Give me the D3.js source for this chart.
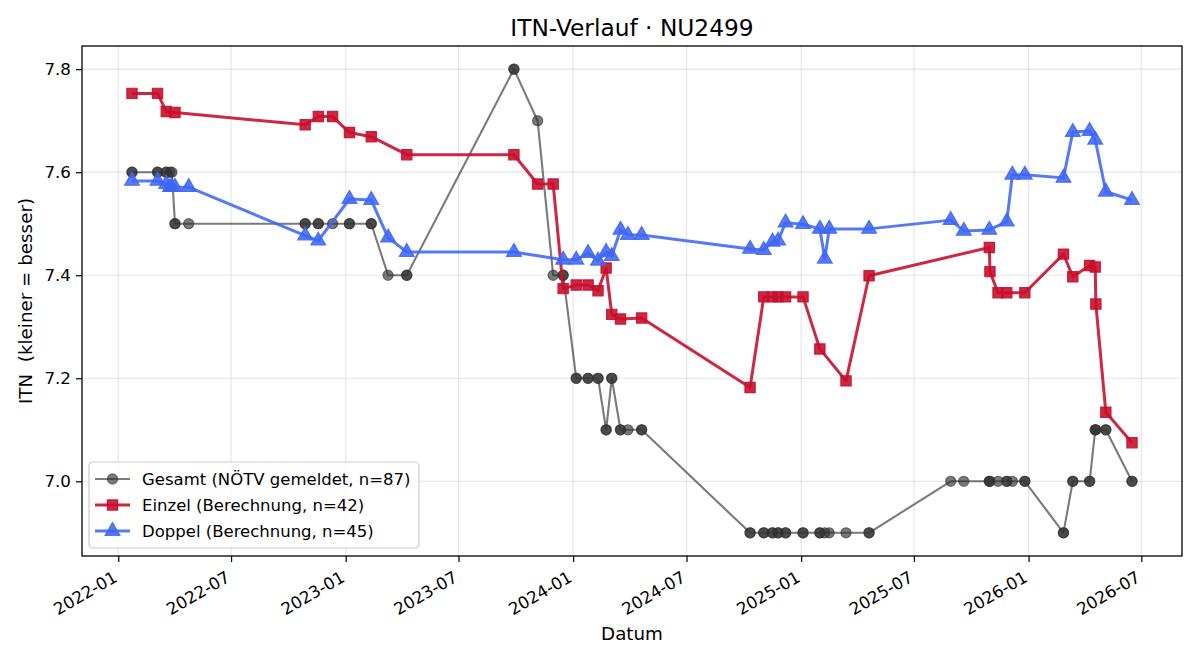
<!DOCTYPE html>
<html>
<head>
<meta charset="utf-8">
<script src="https://cdn.jsdelivr.net/npm/d3@7"></script>
<style>
  body { margin: 0; background: #fff; }
  svg, svg text { font-family: "DejaVu Sans", sans-serif; }
</style>
</head>
<body>
<svg id="itnsvg" width="1200" height="660"></svg>
<script>
// Einzel (berechnet) + NÖTV gemeldeter Wert am selben Tag
var einzelDates = ["2022-01-23","2022-03-05","2022-03-19","2022-04-02","2022-10-28","2022-11-18","2022-12-11",
  "2023-01-07","2023-02-11","2023-04-09","2023-09-28","2023-11-05","2023-11-30","2023-12-16",
  "2024-01-06","2024-01-25","2024-02-10","2024-02-23","2024-03-03","2024-03-17","2024-04-20",
  "2024-10-11","2024-11-02","2024-11-16","2024-11-25","2024-12-07","2025-01-04","2025-01-31",
  "2025-03-14","2025-04-20","2025-10-30","2025-10-31","2025-11-13","2025-11-27","2025-12-26",
  "2026-02-26","2026-03-13","2026-04-09","2026-04-18","2026-04-19","2026-05-05","2026-06-16"];
var einzelItn = [7.753,7.753,7.718,7.716,7.692,7.708,7.708,
  7.677,7.669,7.634,7.634,7.577,7.577,7.374,
  7.381,7.381,7.370,7.414,7.324,7.315,7.317,
  7.182,7.358,7.358,7.358,7.358,7.358,7.257,
  7.195,7.399,7.454,7.407,7.366,7.366,7.366,
  7.441,7.397,7.419,7.416,7.344,7.134,7.075];
var einzelGemeldet = [7.6,7.6,7.6,7.5,7.5,7.5,7.5,
  7.5,7.5,7.4,7.8,7.7,7.4,7.4,
  7.2,7.2,7.2,7.1,7.2,7.1,7.1,
  6.9,6.9,6.9,6.9,6.9,6.9,6.9,
  6.9,6.9,7.0,7.0,7.0,7.0,7.0,
  6.9,7.0,7.0,7.1,7.1,7.1,7.0];

// Doppel (berechnet) + NÖTV gemeldeter Wert
var doppelDates = ["2022-01-23","2022-03-05","2022-03-19","2022-03-25","2022-03-28","2022-04-02","2022-04-24",
  "2022-10-28","2022-11-18","2023-01-07","2023-02-11","2023-03-10","2023-04-09","2023-09-28",
  "2023-12-16","2024-01-06","2024-01-25","2024-02-10","2024-02-23","2024-03-03","2024-03-17",
  "2024-03-29","2024-04-20","2024-10-11","2024-11-02","2024-11-16","2024-11-25","2024-12-07",
  "2025-01-04","2025-01-31","2025-02-08","2025-02-15","2025-04-20","2025-08-29","2025-09-19",
  "2025-10-30","2025-11-27","2025-12-06","2025-12-26","2026-02-26","2026-03-13","2026-04-09",
  "2026-04-18","2026-05-05","2026-06-16"];
var doppelItn = [7.583,7.583,7.577,7.571,7.571,7.571,7.571,
  7.477,7.467,7.548,7.546,7.473,7.445,7.445,
  7.430,7.430,7.443,7.428,7.445,7.437,7.488,
  7.478,7.478,7.451,7.449,7.465,7.467,7.502,
  7.499,7.490,7.432,7.490,7.490,7.507,7.486,
  7.488,7.504,7.595,7.595,7.589,7.678,7.680,
  7.663,7.562,7.546];
var doppelGemeldet = [7.6,7.6,7.6,7.6,7.6,7.5,7.5,
  7.5,7.5,7.5,7.5,7.4,7.4,7.8,
  7.4,7.2,7.2,7.2,7.1,7.2,7.1,
  7.1,7.1,6.9,6.9,6.9,6.9,6.9,
  6.9,6.9,6.9,6.9,6.9,7.0,7.0,
  7.0,7.0,7.0,7.0,6.9,7.0,7.0,
  7.1,7.1,7.0];

var yTicks = [7.0, 7.2, 7.4, 7.6, 7.8];
var legendLabels = ["Gesamt (NÖTV gemeldet, n=87)", "Einzel (Berechnung, n=42)", "Doppel (Berechnung, n=45)"];

var margin = {top: 46, left: 82, right: 18, bottom: 104},
	width = 1200 - margin.left - margin.right,
	height = 660 - margin.top - margin.bottom;

var parse = d3.timeParse("%Y-%m-%d");

var einzel = einzelDates.map(function(d, i) { return {date: parse(d), v: einzelItn[i]}; });
var doppel = doppelDates.map(function(d, i) { return {date: parse(d), v: doppelItn[i]}; });
var gesamt = einzelDates.map(function(d, i) { return {date: parse(d), v: einzelGemeldet[i]}; })
	.concat(doppelDates.map(function(d, i) { return {date: parse(d), v: doppelGemeldet[i]}; }));
gesamt.sort(function(a, b) { return a.date - b.date; });

var svg = d3.select("#itnsvg");
var g = svg.append("g").attr("transform", "translate(" + margin.left + "," + margin.top + ")");

// matplotlib-like 5% margins
var xExt = d3.extent(gesamt, function(d) { return d.date; });
var xPad = (xExt[1] - xExt[0]) * 0.05;
var x = d3.scaleTime()
	.domain([new Date(+xExt[0] - xPad), new Date(+xExt[1] + xPad)])
	.range([0, width]);

var allV = gesamt.concat(einzel, doppel).map(function(d) { return d.v; });
var yMin = d3.min(allV), yMax = d3.max(allV), yPad = (yMax - yMin) * 0.05;
var y = d3.scaleLinear()
	.domain([yMin - yPad, yMax + yPad])
	.range([height, 0]);

var xTickVals = x.ticks(d3.timeMonth.every(6));

// grid
g.append("g").selectAll("line.vg")
	.data(xTickVals).enter().append("line")
	.attr("x1", function(d) { return x(d); }).attr("x2", function(d) { return x(d); })
	.attr("y1", 0).attr("y2", height)
	.attr("stroke", "#b0b0b0").attr("stroke-opacity", 0.3).attr("stroke-width", 1.2);
g.append("g").selectAll("line.hg")
	.data(yTicks).enter().append("line")
	.attr("y1", function(d) { return y(d); }).attr("y2", function(d) { return y(d); })
	.attr("x1", 0).attr("x2", width)
	.attr("stroke", "#b0b0b0").attr("stroke-opacity", 0.3).attr("stroke-width", 1.2);

var line = d3.line()
	.x(function(d) { return x(d.date); })
	.y(function(d) { return y(d.v); });

var series = [
	{data: gesamt, color: "#333333", alpha: 0.65, lw: 2.1, shape: d3.symbolCircle, size: 80},
	{data: einzel, color: "#c8102e", alpha: 0.9, lw: 3, shape: d3.symbolSquare, size: 105},
	{data: doppel, color: "#3f66f5", alpha: 0.88, lw: 3, shape: d3.symbolTriangle, size: 95}
];

series.forEach(function(s) {
	g.append("path")
		.datum(s.data)
		.attr("d", line)
		.attr("fill", "none")
		.attr("stroke", s.color)
		.attr("stroke-opacity", s.alpha)
		.attr("stroke-width", s.lw)
		.attr("stroke-linejoin", "round");
	g.append("g").selectAll("path")
		.data(s.data).enter().append("path")
		.attr("d", d3.symbol().type(s.shape).size(s.size))
		.attr("transform", function(d) { return "translate(" + x(d.date) + "," + y(d.v) + ")"; })
		.attr("fill", s.color)
		.attr("fill-opacity", s.alpha)
		.attr("stroke", s.color)
		.attr("stroke-opacity", s.alpha)
		.attr("stroke-width", 1.2);
});

// axes
var xAxis = g.append("g")
	.attr("transform", "translate(0," + height + ")")
	.call(d3.axisBottom(x).tickValues(xTickVals).tickFormat(d3.timeFormat("%Y-%m")).tickSizeOuter(0).tickSize(6))
	.attr("font-family", "DejaVu Sans").attr("font-size", 16.7);
xAxis.selectAll("text")
	.attr("fill", "#000")
	.attr("text-anchor", "end")
	.attr("y", 0).attr("dy", "0.8em")
	.attr("transform", "translate(-7,13) rotate(-30)");

var yAxis = g.append("g")
	.call(d3.axisLeft(y).tickValues(yTicks).tickFormat(d3.format(".1f")).tickSizeOuter(0).tickSize(6))
	.attr("font-family", "DejaVu Sans").attr("font-size", 16.7);
yAxis.selectAll("text").attr("fill", "#000").attr("x", -11);

svg.selectAll(".domain").remove();
svg.selectAll(".tick line").attr("stroke", "#000").attr("stroke-width", 1.2);

g.append("rect")
	.attr("width", width).attr("height", height)
	.attr("fill", "none").attr("stroke", "#000").attr("stroke-width", 1.3);

// titles
svg.append("text")
	.attr("x", margin.left + width / 2).attr("y", 36)
	.attr("text-anchor", "middle").attr("font-size", 23.3)
	.text("ITN-Verlauf · NU2499");
svg.append("text")
	.attr("x", margin.left + width / 2).attr("y", 640)
	.attr("text-anchor", "middle").attr("font-size", 18.3)
	.text("Datum");
svg.append("text")
	.attr("transform", "translate(32," + (margin.top + height / 2) + ") rotate(-90)")
	.attr("text-anchor", "middle").attr("font-size", 18.3)
	.style("white-space", "pre")
	.text("ITN  (kleiner = besser)");

// legend
var leg = g.append("g").attr("transform", "translate(7," + (height - 94) + ")");
leg.append("rect")
	.attr("width", 330).attr("height", 86).attr("rx", 4)
	.attr("fill", "#fff").attr("fill-opacity", 0.8)
	.attr("stroke", "#cccccc").attr("stroke-width", 1.2);
legendLabels.forEach(function(lab, i) {
	var s = series[i];
	var row = leg.append("g").attr("transform", "translate(0," + (17 + i * 26) + ")");
	row.append("line")
		.attr("x1", 6).attr("x2", 41)
		.attr("stroke", s.color).attr("stroke-opacity", s.alpha).attr("stroke-width", s.lw);
	row.append("path")
		.attr("d", d3.symbol().type(s.shape).size(s.size))
		.attr("transform", "translate(23.5,0)")
		.attr("fill", s.color).attr("fill-opacity", s.alpha)
		.attr("stroke", s.color).attr("stroke-opacity", s.alpha).attr("stroke-width", 1.2);
	row.append("text")
		.attr("x", 53).attr("dy", "0.35em")
		.attr("font-size", 16.5)
		.text(lab);
});
</script>
</body>
</html>
